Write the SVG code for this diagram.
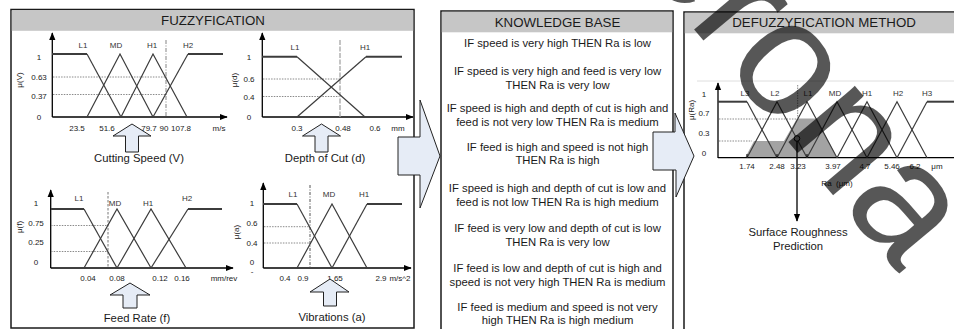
<svg xmlns="http://www.w3.org/2000/svg" width="954" height="329" viewBox="0 0 954 329">
<defs>
<style>
text{font-family:"Liberation Sans",Arial,sans-serif;fill:#1a1a1a}
.panel{fill:#fff;stroke:#1a1a1a;stroke-width:1.5}
.hdr{fill:#c6c6c6}
.ht{font-size:13.3px;text-anchor:middle}
.kb{font-size:11.3px;text-anchor:middle}
.ax{stroke:#000;stroke-width:1.3;fill:none}
.mf{stroke:#3c3c3c;stroke-width:1.2;fill:none}
.sh{stroke:#3c3c3c;stroke-width:2;fill:none}
.dot{stroke:#8a8a8a;stroke-width:1;stroke-dasharray:1.5 1.2;fill:none}
.vd{stroke:#9a9a9a;stroke-width:1.2;stroke-dasharray:4 1.5 1 1.5;fill:none}
.tk{font-size:8px;text-anchor:middle}
.yl{font-size:8px;text-anchor:middle}
.lb{font-size:8px;text-anchor:middle;fill:#333}
.cap{font-size:11.3px;text-anchor:middle}
.arr{fill:#e6ecf6;stroke:#222;stroke-width:1}
</style>
<marker id="ah" viewBox="0 0 10 10" refX="9" refY="5" markerWidth="6" markerHeight="6" orient="auto"><path d="M0,1 L10,5 L0,9 z" fill="#000"/></marker>
</defs>

<g id="fuzzyfication">
<rect class="panel" x="11" y="9.5" width="403" height="318.5"/>
<rect class="hdr" x="11.8" y="10.3" width="401.4" height="20.5"/>
<text class="ht" x="213" y="25">FUZZYFICATION</text>
</g>

<g id="chart-speed">
<line class="ax" x1="52.3" y1="117" x2="52.3" y2="33" marker-end="url(#ah)"/>
<line class="ax" x1="52.3" y1="117" x2="227" y2="117" marker-end="url(#ah)"/>
<line class="dot" x1="53" y1="77" x2="167" y2="77"/>
<line class="dot" x1="53" y1="94.5" x2="167" y2="94.5"/>
<line class="vd" x1="166" y1="40" x2="166" y2="117"/>
<polyline class="sh" points="52,54 87,54"/>
<polyline class="mf" points="87,54 121,117"/>
<polyline class="mf" points="87,117 120,54 153,117"/>
<polyline class="mf" points="121,117 153,54 187,117"/>
<polyline class="mf" points="153,117 188,54"/>
<polyline class="sh" points="188,54 223,54"/>
<text class="lb" x="83" y="48">L1</text><text class="lb" x="116" y="48">MD</text><text class="lb" x="152" y="48">H1</text><text class="lb" x="188" y="48">H2</text>
<text class="yl" x="39" y="60">1</text><text class="yl" x="39" y="80">0.63</text><text class="yl" x="39" y="99">0.37</text><text class="yl" x="39" y="120">0</text>
<text class="yl" transform="translate(22,80) rotate(-90)">μ(V)</text>
<text class="tk" x="77" y="131">23.5</text><text class="tk" x="107" y="131">51.6</text><text class="tk" x="149" y="131">79.7</text><text class="tk" x="164" y="131">90</text><text class="tk" x="181" y="131">107.8</text><text class="tk" x="219" y="131">m/s</text>
<polygon class="arr" points="132,124 151,136 138.5,136 138.5,152 125.5,152 125.5,136 113,136"/>
<text class="cap" x="139" y="162">Cutting Speed (V)</text>
</g>

<g id="chart-depth">
<line class="ax" x1="262.3" y1="117" x2="262.3" y2="33" marker-end="url(#ah)"/>
<line class="ax" x1="262.3" y1="117" x2="413" y2="117" marker-end="url(#ah)"/>
<line class="dot" x1="263" y1="79" x2="340" y2="79"/>
<line class="dot" x1="263" y1="96.5" x2="340" y2="96.5"/>
<line x1="340" y1="40" x2="340" y2="117" stroke="#c4c4c4" stroke-width="2" stroke-dasharray="5 1.5"/>
<polyline class="sh" points="262,56.7 297,56.7"/>
<polyline class="mf" points="297,56.7 365,117"/>
<polyline class="mf" points="297,117 366,56.7"/>
<polyline class="sh" points="366,56.7 402,56.7"/>
<text class="lb" x="295" y="50">L1</text><text class="lb" x="365" y="50">H1</text>
<text class="yl" x="249" y="60">1</text><text class="yl" x="249" y="82">0.6</text><text class="yl" x="249" y="100">0.4</text><text class="yl" x="249" y="120">0</text>
<text class="yl" transform="translate(237,80) rotate(-90)">μ(d)</text>
<text class="tk" x="297" y="131">0.3</text><text class="tk" x="343" y="131">0.48</text><text class="tk" x="375" y="131">0.6</text><text class="tk" x="398" y="131">mm</text>
<polygon class="arr" points="321.5,124 340.5,136 328,136 328,152 315,152 315,136 302.5,136"/>
<text class="cap" x="325" y="162">Depth of Cut (d)</text>
</g>

<g id="chart-feed">
<line class="ax" x1="50.7" y1="268" x2="50.7" y2="190" marker-end="url(#ah)"/>
<line class="ax" x1="50.7" y1="268" x2="233" y2="268" marker-end="url(#ah)"/>
<line class="dot" x1="51" y1="225.5" x2="108" y2="225.5"/>
<line class="dot" x1="51" y1="251.5" x2="108" y2="251.5"/>
<line x1="108" y1="192" x2="108" y2="268" stroke="#777" stroke-width="1" stroke-dasharray="2.5 1.5"/>
<polyline class="sh" points="51,209 84,209"/>
<polyline class="mf" points="84,209 117,268"/>
<polyline class="mf" points="84,268 117,209 151,268"/>
<polyline class="mf" points="117,268 151,209 186,268"/>
<polyline class="mf" points="151,268 188,209"/>
<polyline class="sh" points="188,209 222,209"/>
<text class="lb" x="79" y="201">L1</text><text class="lb" x="115" y="206">MD</text><text class="lb" x="148" y="206">H1</text><text class="lb" x="187" y="201">H2</text>
<text class="yl" x="36" y="206">1</text><text class="yl" x="36" y="226">0.75</text><text class="yl" x="36" y="245">0.25</text><text class="yl" x="36" y="265">0</text>
<text class="yl" transform="translate(22,227) rotate(-90)">μ(f)</text>
<text class="tk" x="88" y="281">0.04</text><text class="tk" x="117" y="281">0.08</text><text class="tk" x="160" y="281">0.12</text><text class="tk" x="182" y="281">0.16</text><text class="tk" x="224" y="281">mm/rev</text>
<polygon class="arr" points="130,283 150,295 137,295 137,308 123,308 123,295 110,295"/>
<text class="cap" x="137" y="322">Feed Rate (f)</text>
</g>

<g id="chart-vibrations">
<line class="ax" x1="263.3" y1="268" x2="263.3" y2="183" marker-end="url(#ah)"/>
<line class="ax" x1="263.3" y1="268" x2="411" y2="268" marker-end="url(#ah)"/>
<line class="dot" x1="264" y1="226.7" x2="310" y2="226.7" stroke="#b0b0b0"/>
<line class="dot" x1="264" y1="243" x2="310" y2="243"/>
<line x1="310" y1="185" x2="310" y2="268" stroke="#555" stroke-width="1" stroke-dasharray="3 1.5 1 1.5"/>
<polyline class="sh" points="263,204 297,204"/>
<polyline class="mf" points="297,204 332,268"/>
<polyline class="mf" points="297,268 332,204 367,268"/>
<polyline class="mf" points="332,268 367,204"/>
<polyline class="sh" points="367,204 402,204"/>
<text class="lb" x="293" y="197">L1</text><text class="lb" x="329" y="197">MD</text><text class="lb" x="364" y="197">H1</text>
<text class="yl" x="252" y="206">1</text><text class="yl" x="252" y="226">0.6</text><text class="yl" x="252" y="246">0.4</text><text class="yl" x="252" y="265">0</text><text class="yl" x="252" y="274">-</text>
<text class="yl" transform="translate(239,232) rotate(-90)">μ(a)</text>
<text class="tk" x="285" y="281">0.4</text><text class="tk" x="303" y="281">0.9</text><text class="tk" x="335" y="281">1.65</text><text class="tk" x="381" y="281">2.9</text><text class="tk" x="400" y="281">m/s^2</text>
<polygon class="arr" points="330,279 349,292 336.5,292 336.5,306 323.5,306 323.5,292 310,292"/>
<text class="cap" x="332" y="321">Vibrations (a)</text>
</g>

<g id="knowledge-base">
<rect class="panel" x="441" y="11" width="232" height="320"/>
<rect class="hdr" x="441.8" y="11.8" width="230.4" height="20.5"/>
<text class="ht" x="557.5" y="26.5">KNOWLEDGE BASE</text>
<text class="kb" x="557.5" y="47">IF speed is very high THEN Ra is low</text>
<text class="kb" x="557.5" y="75">IF speed is very high and feed is very low</text>
<text class="kb" x="557.5" y="88.5">THEN Ra is very low</text>
<text class="kb" x="557.5" y="112">IF speed is high and depth of cut is high and</text>
<text class="kb" x="557.5" y="125.5">feed is not very low THEN Ra is medium</text>
<text class="kb" x="557.5" y="150.5">IF feed is high and speed is not high</text>
<text class="kb" x="557.5" y="164">THEN Ra is high</text>
<text class="kb" x="557.5" y="192">IF speed is high and depth of cut is low and</text>
<text class="kb" x="557.5" y="205.5">feed is not low THEN Ra is high medium</text>
<text class="kb" x="557.5" y="232">IF feed is very low and depth of cut is low</text>
<text class="kb" x="557.5" y="245.5">THEN Ra is very low</text>
<text class="kb" x="557.5" y="272">IF feed is low and depth of cut is high and</text>
<text class="kb" x="557.5" y="285.5">speed is not very high THEN Ra is medium</text>
<text class="kb" x="557.5" y="310.5">IF feed is medium and speed is not very</text>
<text class="kb" x="557.5" y="324">high THEN Ra is high medium</text>
</g>

<g id="defuzzyfication">
<rect class="panel" x="684" y="12" width="290" height="320"/>
<rect class="hdr" x="684.8" y="12.8" width="280" height="20.5"/>
<text class="ht" x="824" y="27">DEFUZZYFICATION METHOD</text>
</g>

<g id="chart-ra">
<line x1="697" y1="81" x2="954" y2="81" stroke="#dedede" stroke-width="1"/>
<polygon points="745,158 754,141 784,141 797,118.5 817,118.5 837,158" fill="#a3a3a3"/>
<line class="dot" x1="719" y1="119" x2="797" y2="119"/>
<line class="dot" x1="719" y1="141" x2="752" y2="141"/>
<line x1="797.7" y1="85" x2="797.7" y2="118" stroke="#888" stroke-width="1" stroke-dasharray="1.5 1"/>
<line class="ax" x1="718" y1="158" x2="718" y2="83" marker-end="url(#ah)"/>
<line class="ax" x1="718" y1="157.7" x2="954" y2="157.7"/>
<polyline class="sh" points="718,101.7 747,101.7"/>
<polyline class="mf" points="747,101.7 777,157.7"/>
<polyline class="mf" points="747,157.7 777,101.7 807,157.7"/>
<polyline class="mf" points="777,157.7 807,101.7 837,157.7"/>
<polyline class="mf" points="807,157.7 837,101.7 867,157.7"/>
<polyline class="mf" points="837,157.7 867,101.7 897,157.7"/>
<polyline class="mf" points="867,157.7 897,101.7 927,157.7"/>
<polyline class="mf" points="897,157.7 927,101.7"/>
<polyline class="sh" points="927,101.7 954,101.7"/>
<line x1="747" y1="157.7" x2="747" y2="154" stroke="#000"/><line x1="777" y1="157.7" x2="777" y2="154" stroke="#000"/><line x1="807" y1="157.7" x2="807" y2="154" stroke="#000"/>
<text class="lb" x="745" y="96">L3</text><text class="lb" x="775" y="96">L2</text><text class="lb" x="808" y="96">L1</text><text class="lb" x="835" y="96">MD</text><text class="lb" x="867" y="96">H1</text><text class="lb" x="898" y="96">H2</text><text class="lb" x="927" y="96">H3</text>
<text class="yl" x="704" y="97" font-size="8.5">1</text><text class="yl" x="704" y="116">0.7</text><text class="yl" x="704" y="136">0.3</text><text class="yl" x="704" y="156">0</text>
<text class="yl" transform="translate(694,110) rotate(-90)">μ(Ra)</text>
<text class="tk" x="747" y="169" font-size="9.5">1.74</text><text class="tk" x="777" y="169" font-size="9.5">2.48</text><text class="tk" x="798" y="169" font-size="9.5">3.23</text><text class="tk" x="833" y="169" font-size="9.5">3.97</text><text class="tk" x="865" y="169" font-size="9.5">4.7</text><text class="tk" x="892" y="169" font-size="9.5">5.46</text><text class="tk" x="915" y="169" font-size="9.5">6.2</text><text class="tk" x="937" y="169" font-size="9.5">μm</text>
<text class="tk" x="837" y="186" font-size="9.5" xml:space="preserve">Ra  (μm)</text>
<circle cx="797" cy="138.5" r="2.8" fill="#a3a3a3" stroke="#000" stroke-width="1"/>
<line x1="797" y1="141.3" x2="797" y2="221" stroke="#000" stroke-width="1.3" marker-end="url(#ah)"/>
<text class="cap" x="798" y="236" font-size="11.8">Surface Roughness</text>
<text class="cap" x="798" y="250" font-size="11.8">Prediction</text>
</g>

<g id="connectors">
<polygon class="arr" points="398,137 420,137 420,100 440,156 420,208 420,175 398,175"/>
<polygon class="arr" points="653,132 675,132 675,113 694,156 676,197 676,170 653,170"/>
</g>

<g id="watermark">
<text transform="translate(757,104.5) rotate(50)" x="-302" y="0" font-size="165" style="fill:#000;fill-opacity:0.66">Verona</text>
</g>
</svg>
